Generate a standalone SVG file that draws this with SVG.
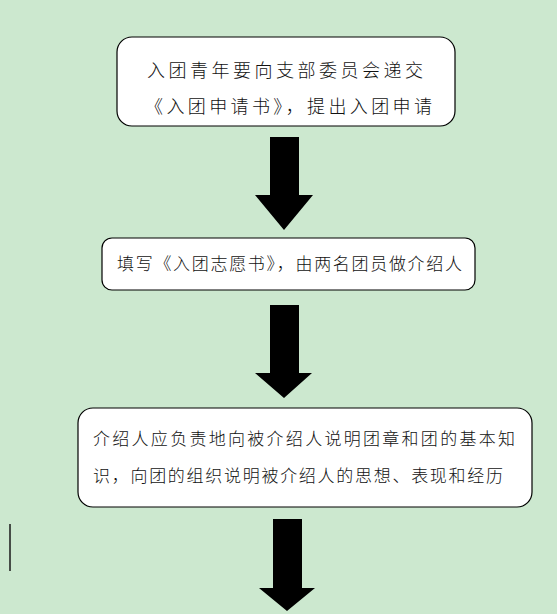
<svg xmlns="http://www.w3.org/2000/svg" width="557" height="614" viewBox="0 0 557 614">
<style>
.box{fill:#ffffff;stroke:#000000;stroke-width:1.2}
.t{font-family:"Noto Sans CJK SC","Noto Sans",sans-serif;font-size:17px;fill:#111111;font-weight:300}
.big{font-size:18px}
.arr{fill:#000000}
</style>
<rect width="557" height="614" fill="#CCE8CF"/>
<g id="node1">
<rect class="box" x="117" y="37" width="338" height="89" rx="15" ry="15"/>
<text class="t big" x="147" y="77" textLength="276" lengthAdjust="spacing">入团青年要向支部委员会递交</text>
<text class="t big" x="145" y="113" textLength="287" lengthAdjust="spacing">《入团申请书》，提出入团申请</text>
</g>
<g id="node2">
<rect class="box" x="102" y="238" width="373" height="52" rx="10" ry="10"/>
<text class="t" x="117" y="270" textLength="345" lengthAdjust="spacing">填写《入团志愿书》，由两名团员做介绍人</text>
</g>
<g id="node3">
<rect class="box" x="78" y="408" width="454" height="99" rx="15" ry="15"/>
<text class="t" x="93" y="445" textLength="422" lengthAdjust="spacing">介绍人应负责地向被介绍人说明团章和团的基本知</text>
<text class="t" x="93" y="482" textLength="410" lengthAdjust="spacing">识，向团的组织说明被介绍人的思想、表现和经历</text>
</g>
<g id="connectors">
<polygon class="arr" points="270,137 299,137 299,195 313,195 284,230 255,195 270,195"/>
<polygon class="arr" points="270,305 299,305 299,373 312,373 284,398 255,373 270,373"/>
<polygon class="arr" points="273,519 302,519 302,588 315,588 287,611 259,588 273,588"/>
</g>
<line x1="10" y1="524" x2="10" y2="571" stroke="#1a1a1a" stroke-width="1.5"/>
</svg>
